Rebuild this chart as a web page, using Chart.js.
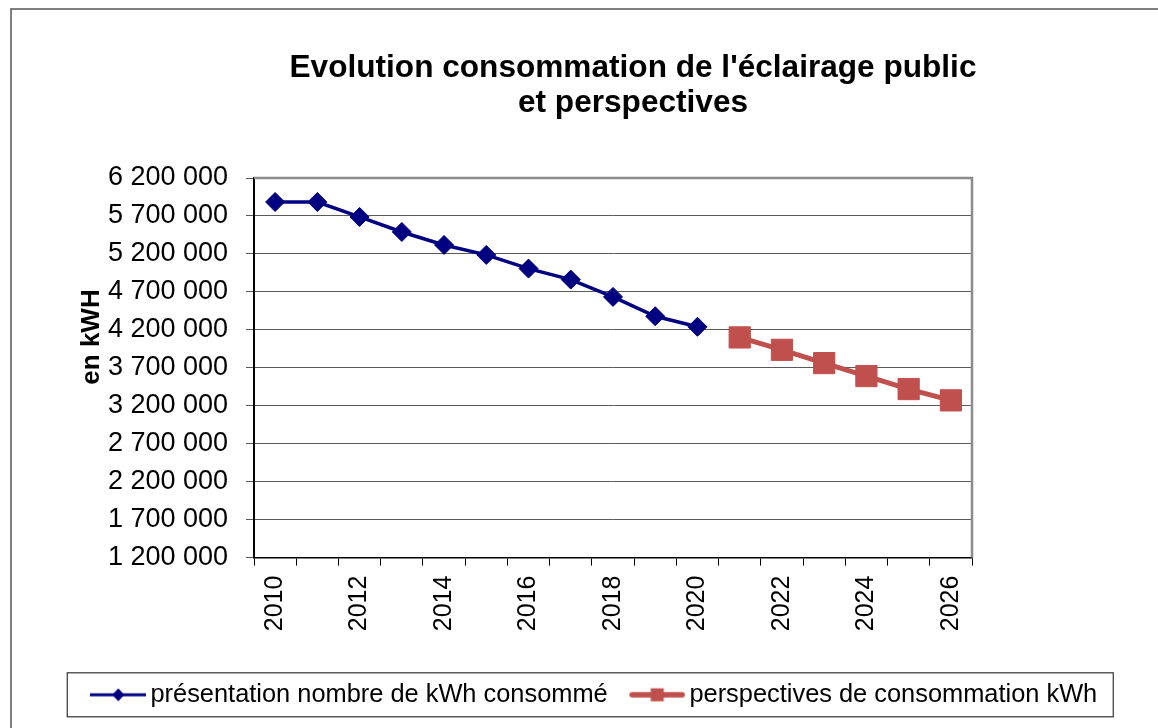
<!DOCTYPE html>
<html>
<head>
<meta charset="utf-8">
<script src="https://cdn.jsdelivr.net/npm/chart.js@4.4.0/dist/chart.umd.min.js"></script>
<style>
html, body { margin: 0; padding: 0; background: #fff; }
#wrap { width: 1158px; height: 728px; }
</style>
</head>
<body>
<div id="wrap"><canvas id="lightChart"></canvas></div>
<script>
var years = ['2010', '2011', '2012', '2013', '2014', '2015', '2016', '2017', '2018',
             '2019', '2020', '2021', '2022', '2023', '2024', '2025', '2026'];
var consumed = [5884000, 5884000, 5687000, 5489000, 5318000, 5187000, 5007000, 4862000,
                4634000, 4379000, 4240000, null, null, null, null, null, null];
var projected = [null, null, null, null, null, null, null, null, null, null, null,
                 4100000, 3937000, 3762000, 3591000, 3420000, 3271000];
var seriesNames = ['présentation nombre de kWh consommé', 'perspectives de consommation kWh'];
var titleLines = ["Evolution consommation de l'éclairage public", 'et perspectives'];
var yTitle = 'en kWH';
var yMin = 1200000, yMax = 6200000, yStep = 500000;

var FONT = "'Liberation Sans', Arial, sans-serif";
var BLUE = '#000080';
var RED = '#C0504D';

// small line + marker pictures for the legend
function legendIcon(color, lw, marker) {
    var c = document.createElement('canvas');
    c.width = 56; c.height = 20;
    var g = c.getContext('2d');
    g.strokeStyle = color;
    g.lineWidth = lw;
    g.lineCap = marker === 'square' ? 'round' : 'butt';
    g.beginPath();
    g.moveTo(marker === 'square' ? 3 : 0, 10);
    g.lineTo(marker === 'square' ? 53 : 56, 10);
    g.stroke();
    g.fillStyle = color;
    if (marker === 'diamond') {
        g.beginPath();
        g.moveTo(28, 3.5); g.lineTo(34, 10); g.lineTo(28, 16.5); g.lineTo(22, 10);
        g.closePath(); g.fill();
    } else {
        g.fillRect(21.5, 3.5, 13, 13);
    }
    return c;
}
var icons = [legendIcon(BLUE, 3, 'diamond'), legendIcon(RED, 5.5, 'square')];

function spaced(v) {
    return String(v).replace(/\B(?=(\d{3})+(?!\d))/g, ' ');
}

var decor = {
    id: 'decor',
    beforeDraw: function (chart) {
        var ctx = chart.ctx;
        ctx.save();
        ctx.fillStyle = '#fff';
        ctx.fillRect(0, 0, chart.width, chart.height);
        ctx.strokeStyle = '#555';
        ctx.lineWidth = 1.5;
        ctx.strokeRect(11, 9, chart.width + 20, chart.height + 20);
        ctx.restore();
    },
    beforeDatasetsDraw: function (chart) {
        var a = chart.chartArea, ctx = chart.ctx;
        ctx.save();
        ctx.strokeStyle = '#8c8c8c';
        ctx.lineWidth = 2.5;
        ctx.beginPath();
        ctx.moveTo(a.left, a.top);
        ctx.lineTo(a.right, a.top);
        ctx.lineTo(a.right, a.bottom);
        ctx.stroke();
        ctx.restore();
    },
    afterDraw: function (chart) {
        var ctx = chart.ctx;
        ctx.save();
        ctx.fillStyle = '#000';
        ctx.textAlign = 'center';
        ctx.textBaseline = 'middle';
        ctx.font = 'bold 31.6px ' + FONT;
        ctx.fillText(titleLines[0], 633, 68);
        ctx.fillText(titleLines[1], 633, 103);

        ctx.translate(92, 337);
        ctx.rotate(-Math.PI / 2);
        ctx.font = 'bold 26px ' + FONT;
        ctx.fillText(yTitle, 0, 0);
        ctx.restore();

        // box round the legend
        var hb = chart.legend.legendHitBoxes;
        if (hb && hb.length) {
            var last = hb[hb.length - 1];
            var mid = hb[0].top + hb[0].height / 2;
            var x0 = hb[0].left - 31.5;
            ctx.save();
            ctx.strokeStyle = '#333';
            ctx.lineWidth = 1.2;
            ctx.strokeRect(x0, mid - 22, last.left + last.width + 16 - x0, 44);
            ctx.restore();
        }
    }
};

new Chart(document.getElementById('lightChart'), {
    type: 'line',
    data: {
        labels: years,
        datasets: [{
            label: seriesNames[0],
            data: consumed,
            borderColor: BLUE,
            backgroundColor: BLUE,
            borderWidth: 3.5,
            pointStyle: 'rectRot',
            pointRadius: 9.5,
            pointBorderWidth: 1,
            spanGaps: false
        }, {
            label: seriesNames[1],
            data: projected,
            borderColor: RED,
            backgroundColor: RED,
            borderWidth: 5,
            pointStyle: 'rect',
            pointRadius: 15,
            pointBorderWidth: 1,
            spanGaps: false
        }]
    },
    options: {
        responsive: true,
        maintainAspectRatio: false,
        animation: false,
        devicePixelRatio: 1,
        events: [],
        layout: { padding: { top: 178, left: 38, right: 0, bottom: 10.5 } },
        scales: {
            x: {
                offset: true,
                grid: { offset: true, drawOnChartArea: false, drawTicks: true, tickLength: 8, color: '#000' },
                border: { color: '#000', width: 1.5 },
                ticks: {
                    color: '#000',
                    font: { family: FONT, size: 25 },
                    minRotation: 90,
                    maxRotation: 90,
                    autoSkip: false,
                    padding: 10,
                    callback: function (v, i) { return i % 2 === 0 ? this.getLabelForValue(v) : ''; }
                },
                afterFit: function (s) { s.height = 94.5; }
            },
            y: {
                min: yMin,
                max: yMax,
                grid: { color: '#5a5a5a', lineWidth: 1, tickLength: 8 },
                border: { color: '#000', width: 2 },
                ticks: {
                    stepSize: yStep,
                    color: '#000',
                    padding: 18,
                    font: { family: FONT, size: 27 },
                    callback: function (v) { return spaced(v); }
                },
                afterFit: function (s) { s.width = 216; }
            },
            yR: {
                position: 'right',
                grid: { display: false },
                border: { display: false },
                ticks: { display: false },
                afterFit: function (s) { s.width = 186; }
            }
        },
        plugins: {
            title: { display: false },
            tooltip: { enabled: false },
            legend: {
                position: 'bottom',
                labels: {
                    usePointStyle: true,
                    pointStyleWidth: 39,
                    padding: 30,
                    color: '#000',
                    font: { family: FONT, size: 25.4 },
                    generateLabels: function (chart) {
                        return chart.data.datasets.map(function (ds, i) {
                            return {
                                text: ds.label,
                                pointStyle: icons[i],
                                fillStyle: ds.borderColor,
                                strokeStyle: ds.borderColor,
                                lineWidth: 0,
                                hidden: false,
                                datasetIndex: i
                            };
                        });
                    }
                }
            }
        }
    },
    plugins: [decor]
});
</script>
</body>
</html>
